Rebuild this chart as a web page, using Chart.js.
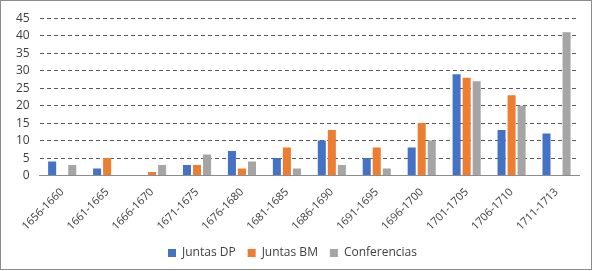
<!DOCTYPE html>
<html>
<head>
<meta charset="utf-8">
<script src="https://cdn.jsdelivr.net/npm/chart.js@4"></script>
<style>
  body { margin: 0; background: #fff; }
  #wrap { width: 590px; height: 268px; border: 1px solid #8c8c8c; }
</style>
</head>
<body>
<div id="wrap"><canvas id="myChart" width="590" height="268"></canvas></div>
<script>
const periods = ['1656-1660', '1661-1665', '1666-1670', '1671-1675', '1676-1680', '1681-1685',
    '1686-1690', '1691-1695', '1696-1700', '1701-1705', '1706-1710', '1711-1713'];
const juntasDP = [4, 2, 0, 3, 7, 5, 10, 5, 8, 29, 13, 12];
const juntasBM = [0, 5, 1, 3, 2, 8, 13, 8, 15, 28, 23, 0];
const conferencias = [3, 0, 3, 6, 4, 2, 3, 2, 10, 27, 20, 41];

const ctx = document.getElementById('myChart');
const font = {family: 'Open Sans, Liberation Sans, Arial, sans-serif', size: 11};

new Chart(ctx, {
    type: 'bar',
    data: {
        labels: periods,
        datasets: [
            {label: 'Juntas DP', data: juntasDP, backgroundColor: '#4472C4'},
            {label: 'Juntas BM', data: juntasBM, backgroundColor: '#ED7D31'},
            {label: 'Conferencias', data: conferencias, backgroundColor: '#A5A5A5'},
        ]
    },
    options: {
        responsive: false,
        animation: false,
        datasets: {bar: {barPercentage: 0.8, categoryPercentage: 0.67}},
        layout: {padding: {left: 5, right: 12, top: 11, bottom: 0}},
        plugins: {
            legend: {
                position: 'bottom',
                labels: {boxWidth: 8, boxHeight: 8, padding: 12, color: '#404040', font: {family: font.family, size: 12}}
            },
            tooltip: {enabled: false}
        },
        scales: {
            x: {
                grid: {display: false},
                border: {display: true, color: '#8c8c8c'},
                ticks: {maxRotation: 45, minRotation: 45, color: '#404040', font: font, padding: 2}
            },
            y: {
                min: 0, max: 45,
                grid: {color: '#595959', drawTicks: false},
                border: {display: false, dash: [4, 3]},
                ticks: {stepSize: 5, autoSkip: false, color: '#404040', font: {family: font.family, size: 12}, padding: 10}
            }
        }
    }
});
</script>
</body>
</html>
